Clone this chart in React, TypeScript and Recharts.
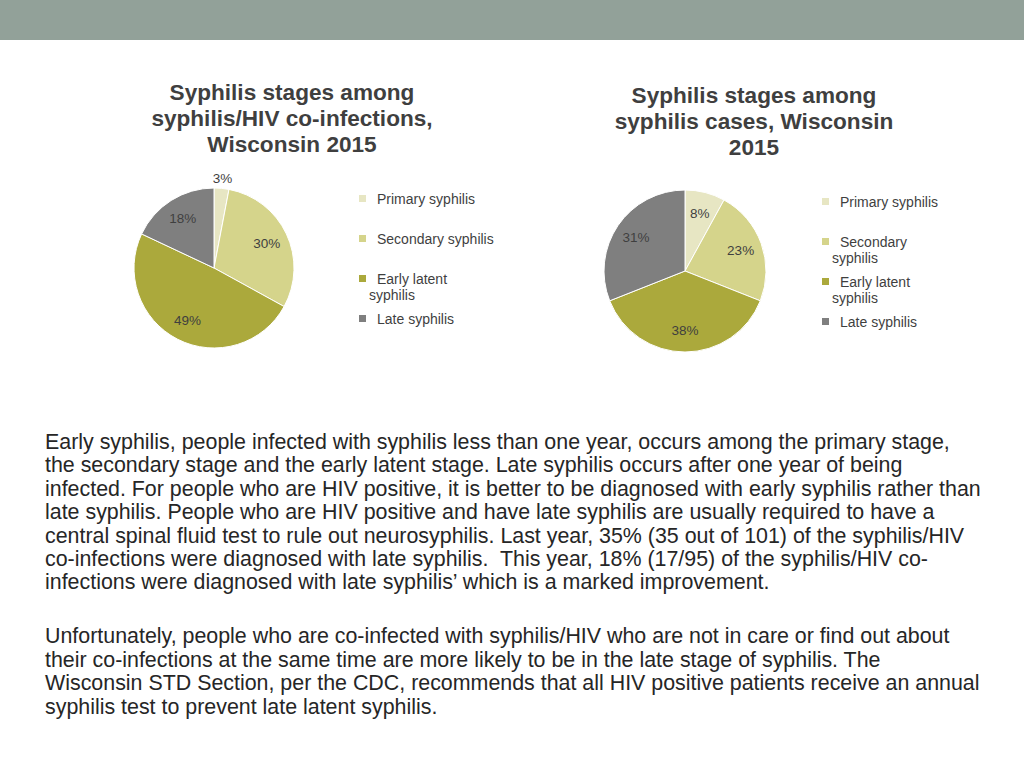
import React from 'react';
import { PieChart, Pie, Cell, Legend } from 'recharts';

const stages = ['Primary syphilis', 'Secondary syphilis', 'Early latent syphilis', 'Late syphilis'];
const coInfectionPct = [3, 30, 49, 18];
const allCasesPct = [8, 23, 38, 31];

const COLORS = ['#e7e6c3', '#d5d48b', '#aba93c', '#7f7f7f'];
const FONT = '"Liberation Sans", Arial, sans-serif';
const TEXT = '#3f3f3f';

const RADIAN = Math.PI / 180;

const renderLabel = (props: any) => {
  const { cx, cy, midAngle, outerRadius, percent, value } = props;
  const r = percent < 0.05 ? outerRadius + 10 : outerRadius * 0.73;
  const x = cx + r * Math.cos(-midAngle * RADIAN);
  const y = cy + r * Math.sin(-midAngle * RADIAN);
  return (
    <text x={x} y={y} fill={TEXT} fontSize={13.5} fontFamily={FONT} textAnchor="middle" dominantBaseline="central">
      {`${value}%`}
    </text>
  );
};

// legend keeps the category order (recharts sorts payload otherwise)
const makeLegend = (width: number) => () => (
  <div style={{ fontFamily: FONT, fontSize: 14, color: TEXT, lineHeight: '16px' }}>
    {stages.map((name, i) => (
      <div key={`leg-${i}`} style={{ position: 'relative', height: 40, width, paddingLeft: 10, boxSizing: 'border-box', textIndent: 8 }}>
        <span style={{ position: 'absolute', left: 0, top: 4, width: 7, height: 7, background: COLORS[i] }} />
        {name}
      </div>
    ))}
  </div>
);

interface StagePieProps {
  values: number[];
  radius: number;
  legendLeft: number;
  legendTop: number;
  legendWidth: number;
}

const StagePie: React.FC<StagePieProps> = ({ values, radius, legendLeft, legendTop, legendWidth }) => {
  const data = stages.map((name, i) => ({ name, value: values[i] }));
  return (
    <PieChart width={400} height={200} margin={{ top: 0, right: 0, bottom: 0, left: 0 }}>
      <Pie
        data={data}
        dataKey="value"
        nameKey="name"
        cx={100}
        cy={100}
        outerRadius={radius}
        startAngle={90}
        endAngle={-270}
        stroke="#ffffff"
        strokeWidth={1}
        labelLine={false}
        label={renderLabel}
        isAnimationActive={false}
      >
        {data.map((entry, index) => (
          <Cell key={`cell-${index}`} fill={COLORS[index % COLORS.length]} />
        ))}
      </Pie>
      <Legend
        layout="vertical"
        content={makeLegend(legendWidth)}
        wrapperStyle={{ left: legendLeft, top: legendTop, width: legendWidth }}
      />
    </PieChart>
  );
};

const titleStyle: React.CSSProperties = {
  position: 'absolute',
  width: 304,
  textAlign: 'center',
  fontFamily: FONT,
  fontWeight: 'bold',
  fontSize: 22.6,
  lineHeight: '26px',
  color: TEXT,
};

const paraStyle: React.CSSProperties = {
  margin: 0,
  fontFamily: FONT,
  fontSize: 21.4,
  lineHeight: '23.4px',
  color: '#262626',
};

export default function App() {
  return (
    <div style={{ position: 'absolute', left: 0, top: 0, width: 1024, height: 768, background: '#ffffff', overflow: 'hidden' }}>
      <div style={{ position: 'absolute', left: 0, top: 0, width: 1024, height: 40, background: '#92a199' }} />

      <div style={{ ...titleStyle, left: 140, top: 80 }}>Syphilis stages among syphilis/HIV co-infections, Wisconsin 2015</div>
      <div style={{ ...titleStyle, left: 602, top: 83 }}>Syphilis stages among syphilis cases, Wisconsin 2015</div>

      <div style={{ position: 'absolute', left: 114, top: 168 }}>
        <StagePie values={coInfectionPct} radius={80} legendLeft={245} legendTop={23} legendWidth={137} />
      </div>
      <div style={{ position: 'absolute', left: 585, top: 171 }}>
        <StagePie values={allCasesPct} radius={81} legendLeft={237} legendTop={23} legendWidth={125} />
      </div>

      <div style={{ position: 'absolute', left: 45, top: 431, width: 936 }}>
        <p style={paraStyle}>
          Early syphilis, people infected with syphilis less than one year, occurs among the primary stage, the secondary stage and the early latent stage. Late syphilis occurs after one year of being infected. For people who are HIV positive, it is better to be diagnosed with early syphilis rather than late syphilis. People who are HIV positive and have late syphilis are usually required to have a central spinal fluid test to rule out neurosyphilis. Last year, 35% (35 out of 101) of the syphilis/HIV co-infections were diagnosed with late syphilis.&nbsp; This year, 18% (17/95) of the syphilis/HIV co-infections were diagnosed with late syphilis’ which is a marked improvement.
        </p>
        <p style={{ ...paraStyle, marginTop: 30.5 }}>
          Unfortunately, people who are co-infected with syphilis/HIV who are not in care or find out about their co-infections at the same time are more likely to be in the late stage of syphilis. The Wisconsin STD Section, per the CDC, recommends that all HIV positive patients receive an annual syphilis test to prevent late latent syphilis.
        </p>
      </div>
    </div>
  );
}
